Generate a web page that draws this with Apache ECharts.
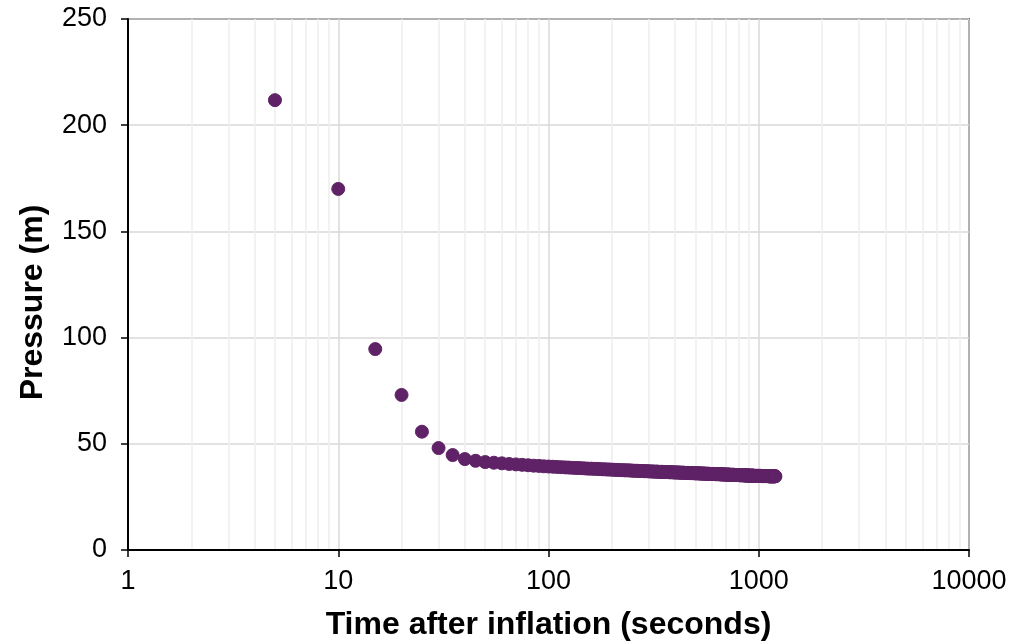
<!DOCTYPE html>
<html>
<head>
<meta charset="utf-8">
<script src="https://cdn.jsdelivr.net/npm/echarts@6/dist/echarts.min.js"></script>
<style>
  html, body { margin: 0; padding: 0; background: #fff; }
  #chart-panel { width: 1023px; height: 641px; }
</style>
</head>
<body>
<div id="chart-panel"></div>
<script>
// time after inflation (s)
const times = [
  5, 10, 15, 20, 25, 30, 35, 40, 45, 50,
  55, 60, 65, 70, 75, 80, 85, 90, 95, 100,
  105, 110, 115, 120, 125, 130, 135, 140, 145, 150,
  155, 160, 165, 170, 175, 180, 185, 190, 195, 200,
  205, 210, 215, 220, 225, 230, 235, 240, 245, 250,
  255, 260, 265, 270, 275, 280, 285, 290, 295, 300,
  305, 310, 315, 320, 325, 330, 335, 340, 345, 350,
  355, 360, 365, 370, 375, 380, 385, 390, 395, 400,
  405, 410, 415, 420, 425, 430, 435, 440, 445, 450,
  455, 460, 465, 470, 475, 480, 485, 490, 495, 500,
  505, 510, 515, 520, 525, 530, 535, 540, 545, 550,
  555, 560, 565, 570, 575, 580, 585, 590, 595, 600,
  605, 610, 615, 620, 625, 630, 635, 640, 645, 650,
  655, 660, 665, 670, 675, 680, 685, 690, 695, 700,
  705, 710, 715, 720, 725, 730, 735, 740, 745, 750,
  755, 760, 765, 770, 775, 780, 785, 790, 795, 800,
  805, 810, 815, 820, 825, 830, 835, 840, 845, 850,
  855, 860, 865, 870, 875, 880, 885, 890, 895, 900,
  905, 910, 915, 920, 925, 930, 935, 940, 945, 950,
  955, 960, 965, 970, 975, 980, 985, 990, 995, 1000,
  1005, 1010, 1015, 1020, 1025, 1030, 1035, 1040, 1045, 1050,
  1055, 1060, 1065, 1070, 1075, 1080, 1085, 1090, 1095, 1100,
  1105, 1110, 1115, 1120, 1125, 1130, 1135, 1140, 1145, 1150,
  1155, 1160, 1165, 1170, 1175, 1180, 1185, 1190, 1195, 1200
]
// pressure (m)
const pressure = [
  211.8, 170, 94.6, 73, 55.7, 48, 44.7, 42.8, 42.0, 41.4,
  41.1, 40.8, 40.5, 40.3, 40.1, 39.9, 39.7, 39.6, 39.4, 39.3,
  39.2, 39.1, 39.0, 38.9, 38.8, 38.7, 38.6, 38.6, 38.5, 38.4,
  38.3, 38.3, 38.2, 38.2, 38.1, 38.0, 38.0, 37.9, 37.9, 37.8,
  37.8, 37.7, 37.7, 37.6, 37.6, 37.5, 37.5, 37.5, 37.4, 37.4,
  37.3, 37.3, 37.3, 37.2, 37.2, 37.2, 37.1, 37.1, 37.1, 37.0,
  37.0, 37.0, 36.9, 36.9, 36.9, 36.9, 36.8, 36.8, 36.8, 36.8,
  36.7, 36.7, 36.7, 36.7, 36.6, 36.6, 36.6, 36.6, 36.5, 36.5,
  36.5, 36.5, 36.5, 36.4, 36.4, 36.4, 36.4, 36.4, 36.3, 36.3,
  36.3, 36.3, 36.3, 36.2, 36.2, 36.2, 36.2, 36.2, 36.1, 36.1,
  36.1, 36.1, 36.1, 36.1, 36.0, 36.0, 36.0, 36.0, 36.0, 36.0,
  35.9, 35.9, 35.9, 35.9, 35.9, 35.9, 35.8, 35.8, 35.8, 35.8,
  35.8, 35.8, 35.8, 35.7, 35.7, 35.7, 35.7, 35.7, 35.7, 35.7,
  35.6, 35.6, 35.6, 35.6, 35.6, 35.6, 35.6, 35.5, 35.5, 35.5,
  35.5, 35.5, 35.5, 35.5, 35.5, 35.4, 35.4, 35.4, 35.4, 35.4,
  35.4, 35.4, 35.4, 35.3, 35.3, 35.3, 35.3, 35.3, 35.3, 35.3,
  35.3, 35.2, 35.2, 35.2, 35.2, 35.2, 35.2, 35.2, 35.2, 35.2,
  35.1, 35.1, 35.1, 35.1, 35.1, 35.1, 35.1, 35.1, 35.1, 35.0,
  35.0, 35.0, 35.0, 35.0, 35.0, 35.0, 35.0, 35.0, 35.0, 34.9,
  34.9, 34.9, 34.9, 34.9, 34.9, 34.9, 34.9, 34.9, 34.9, 34.9,
  34.9, 34.9, 34.9, 34.9, 34.9, 34.8, 34.8, 34.8, 34.8, 34.8,
  34.8, 34.8, 34.8, 34.8, 34.8, 34.8, 34.8, 34.8, 34.8, 34.8,
  34.8, 34.8, 34.7, 34.7, 34.7, 34.7, 34.7, 34.7, 34.7, 34.7,
  34.7, 34.7, 34.7, 34.7, 34.7, 34.7, 34.7, 34.7, 34.7, 34.7
]
const xTickLabels = ["1", "10", "100", "1000", "10000"]
const xMinorTicks = [
  2, 3, 4, 5, 6, 7, 8, 9,
  20, 30, 40, 50, 60, 70, 80, 90,
  200, 300, 400, 500, 600, 700, 800, 900,
  2000, 3000, 4000, 5000, 6000, 7000, 8000, 9000
]

const font = "'Liberation Sans', Arial, sans-serif"
const dotColor = "#5f2266"
const chart = echarts.init(document.getElementById("chart-panel"))

const points = times.map((t, i) => [t, pressure[i]])

const option = {
  animation: false,
  backgroundColor: "#fff",
  grid: {
    left: 128,
    right: 54,
    top: 19,
    bottom: 91,
    outerBoundsMode: "none",
    containLabel: false,
    show: true,
    borderColor: "#000",
    borderWidth: 1.5
  },
  xAxis: {
    type: "log",
    logBase: 10,
    min: 1,
    max: 10000,
    name: "Time after inflation (seconds)",
    nameLocation: "middle",
    nameGap: 59,
    nameTextStyle: { fontFamily: font, fontSize: 32, fontWeight: "bold", color: "#000" },
    axisLine: { show: true, lineStyle: { color: "#000", width: 2 } },
    axisTick: { show: true, inside: false, length: 7, lineStyle: { color: "#000", width: 1.5 } },
    minorTick: { show: false },
    axisLabel: {
      margin: 18,
      fontFamily: font,
      fontSize: 27,
      color: "#000",
      formatter: (v, i) => xTickLabels[i]
    },
    splitLine: { show: true, lineStyle: { color: "#d9d9d9", width: 1.5 } }
  },
  yAxis: {
    type: "value",
    min: 0,
    max: 250,
    interval: 50,
    name: "Pressure (m)",
    nameLocation: "middle",
    nameGap: 79,
    nameTextStyle: {
      fontFamily: font,
      fontSize: 32,
      fontWeight: "bold",
      color: "#000",
      padding: [0, 36, 0, 0]
    },
    axisLine: { show: true, lineStyle: { color: "#000", width: 2 } },
    axisTick: { show: true, inside: false, length: 7, lineStyle: { color: "#000", width: 1.5 } },
    axisLabel: { margin: 21, fontFamily: font, fontSize: 27, color: "#000" },
    splitLine: { show: true, lineStyle: { color: "#d9d9d9", width: 1.5 } }
  },
  series: [
    {
      // minor vertical gridlines, kept under the dots
      type: "line",
      data: [],
      z: 0,
      silent: true,
      markLine: {
        z: 0,
        silent: true,
        symbol: "none",
        label: { show: false },
        lineStyle: { color: "#eeeeee", width: 1.5, type: "solid" },
        data: xMinorTicks.map(v => ({ xAxis: v }))
      }
    },
    {
      type: "scatter",
      z: 10,
      symbol: "circle",
      symbolSize: 13,
      itemStyle: { color: dotColor, opacity: 1, borderColor: dotColor, borderWidth: 1 },
      emphasis: { disabled: true },
      data: points
    }
  ]
}
chart.setOption(option)
window.addEventListener("resize", () => chart.resize())
</script>
</body>
</html>
